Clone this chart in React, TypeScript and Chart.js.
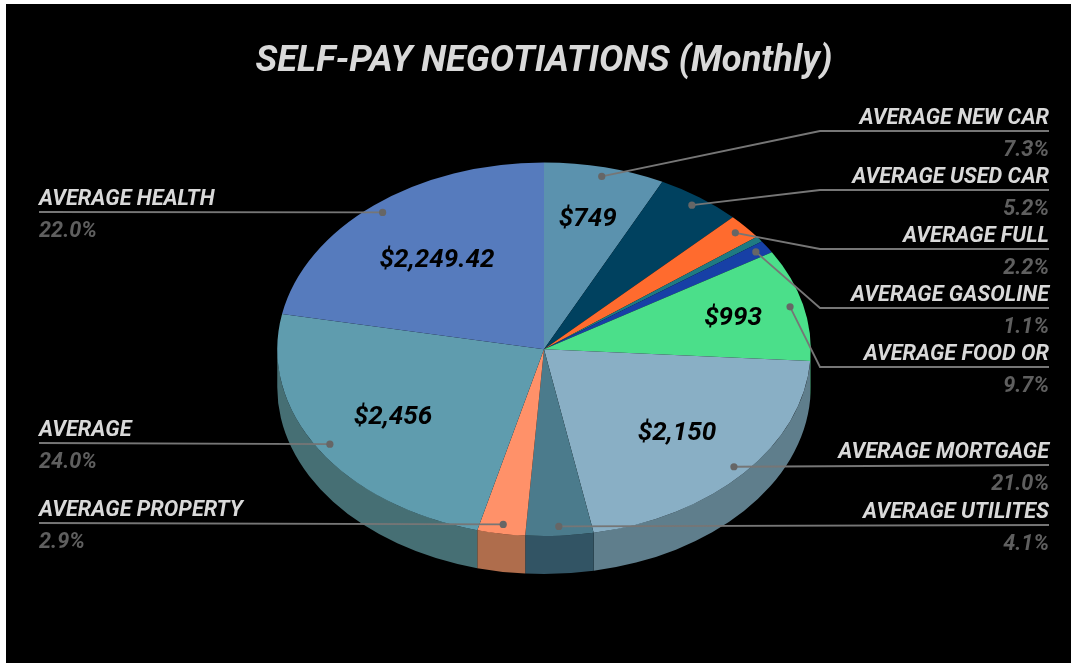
import React, { useEffect, useRef } from "react";
import { Chart, registerables } from "chart.js";

Chart.register(...registerables);

const categories = [
  "AVERAGE NEW CAR", "AVERAGE USED CAR", "AVERAGE FULL", "", "AVERAGE GASOLINE", "AVERAGE FOOD OR",
  "AVERAGE MORTGAGE", "AVERAGE UTILITES", "AVERAGE PROPERTY", "AVERAGE", "AVERAGE HEALTH",
];
const values = [749, 532, 225, 50, 113, 993, 2150, 420, 297, 2456, 2249.42];
const valueLabels = ["$749", "", "", "", "", "$993", "$2,150", "", "", "$2,456", "$2,249.42"];
const topColors = [
  "#5b92ae", "#00415f", "#ff6b2e", "#1f7a82", "#1740a6", "#4bdf8a",
  "#89afc5", "#4b7b8c", "#ff9169", "#5f9cae", "#567bbd",
];
const sideColors = [
  "#40667a", "#002d42", "#b34b20", "#15555b", "#102d74", "#349c61",
  "#5f7e8c", "#325464", "#af6d4c", "#466f74", "#3c5684",
];

// Label layout, in canvas pixels
const OFFSET_X = 6;
const OFFSET_Y = 4;
const rightLineY = [131, 190, 249, 0, 308, 367, 465, 525].map((y) => y - OFFSET_Y);
const leftLineY: Record<number, number> = { 8: 523 - OFFSET_Y, 9: 443 - OFFSET_Y, 10: 212 - OFFSET_Y };
const valueRadius = [0.72, 0, 0, 0, 0, 0.73, 0.665, 0, 0, 0.67, 0.63];
const ELBOW_X = 820 - OFFSET_X;
const RIGHT_X = 1049 - OFFSET_X;
const LEFT_X = 39 - OFFSET_X;
const SQUASH = 187 / 267;
const DEPTH = 38;
const FONT = "Roboto, sans-serif";

const pie3d = {
  id: "pie3d",
  beforeDatasetDraw(chart: any) {
    const ctx = chart.ctx;
    const arcs = chart.getDatasetMeta(0).data;
    arcs.forEach((arc: any, i: number) => {
      const { x, y, startAngle, endAngle, outerRadius } = arc.getProps(["x", "y", "startAngle", "endAngle", "outerRadius"]);
      const a0 = Math.max(startAngle, 0);
      const a1 = Math.min(endAngle, Math.PI);
      if (a1 <= a0) return;
      const ry = outerRadius * SQUASH;
      ctx.beginPath();
      ctx.ellipse(x, y, outerRadius, ry, 0, a0, a1);
      ctx.ellipse(x, y + DEPTH, outerRadius, ry, 0, a1, a0, true);
      ctx.closePath();
      ctx.fillStyle = sideColors[i];
      ctx.fill();
    });
    const { x, y } = arcs[0].getProps(["x", "y"]);
    ctx.save();
    ctx.translate(x, y);
    ctx.scale(1, SQUASH);
    ctx.translate(-x, -y);
  },
  afterDatasetDraw(chart: any) {
    chart.ctx.restore();
  },
  afterDraw(chart: any) {
    const ctx = chart.ctx;
    const total = values.reduce((a, b) => a + b, 0);
    chart.getDatasetMeta(0).data.forEach((arc: any, i: number) => {
      const { x, y, startAngle, endAngle, outerRadius } = arc.getProps(["x", "y", "startAngle", "endAngle", "outerRadius"]);
      const mid = (startAngle + endAngle) / 2;
      const point = (f: number) => ({
        px: x + Math.cos(mid) * outerRadius * f,
        py: y + Math.sin(mid) * outerRadius * SQUASH * f,
      });
      if (valueLabels[i]) {
        const { px, py } = point(valueRadius[i]);
        ctx.font = `italic 700 26px ${FONT}`;
        ctx.fillStyle = "#000000";
        ctx.textAlign = "center";
        ctx.textBaseline = "middle";
        ctx.fillText(valueLabels[i], px, py + 1.5);
      }
      if (!categories[i]) return;
      const { px, py } = point(0.95);
      const isLeft = i in leftLineY;
      const lineY = isLeft ? leftLineY[i] : rightLineY[i];
      ctx.strokeStyle = "#767676";
      ctx.lineWidth = 1.8;
      ctx.beginPath();
      ctx.moveTo(px, py);
      if (isLeft) {
        ctx.lineTo(LEFT_X, lineY);
      } else if (i >= 6) {
        ctx.lineTo(RIGHT_X, lineY);
      } else {
        ctx.lineTo(ELBOW_X, lineY);
        ctx.lineTo(RIGHT_X, lineY);
      }
      ctx.stroke();
      ctx.beginPath();
      ctx.arc(px, py, 3.6, 0, Math.PI * 2);
      ctx.fillStyle = "#666666";
      ctx.fill();
      const tx = isLeft ? LEFT_X : RIGHT_X;
      ctx.textAlign = isLeft ? "left" : "right";
      ctx.textBaseline = "middle";
      ctx.font = `italic 700 21.7px ${FONT}`;
      ctx.fillStyle = "#d9d9d9";
      ctx.fillText(categories[i], tx, lineY - 12.5);
      ctx.font = `italic 700 21.7px ${FONT}`;
      ctx.fillStyle = "#5f5f5f";
      ctx.fillText(((values[i] / total) * 100).toFixed(1) + "%", tx, lineY + 20);
    });
  },
};

export default function App() {
  const ref = useRef<HTMLCanvasElement>(null);
  useEffect(() => {
    const chart = new Chart(ref.current!, {
      type: "pie",
      data: {
        labels: categories,
        datasets: [{ data: values, backgroundColor: topColors, borderWidth: 0, clip: false as any }],
      },
      options: {
        animation: false,
        responsive: false,
        layout: { padding: { left: 11, right: 0, top: 8, bottom: 47 } },
        plugins: {
          legend: { display: false },
          tooltip: { enabled: false },
          title: {
            display: true,
            text: "SELF-PAY NEGOTIATIONS (Monthly)",
            color: "#d9d9d9",
            font: { family: FONT, size: 36.3, style: "italic", weight: 700 as any, lineHeight: 1.1 },
            padding: { top: 29.8, bottom: 0.8 },
          },
        },
      },
      plugins: [pie3d],
    });
    return () => chart.destroy();
  }, []);
  return (
    <div style={{ position: "fixed", inset: 0, background: "#ffffff" }}>
      <canvas
        ref={ref}
        width={1065}
        height={659}
        style={{ position: "absolute", left: OFFSET_X, top: OFFSET_Y, background: "#000000", display: "block" }}
      />
    </div>
  );
}
